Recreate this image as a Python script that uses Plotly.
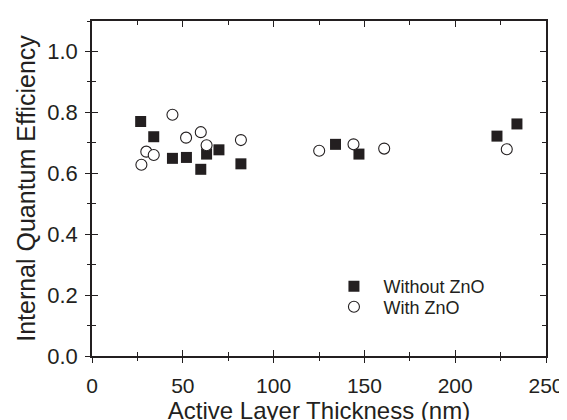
import plotly.graph_objects as go

# Data
without_x = [26.8, 34.0, 44.3, 52.0, 59.9, 63.1, 69.9, 82.0, 134.1, 147.0, 223.0, 234.0]
without_y = [0.770, 0.720, 0.649, 0.652, 0.613, 0.663, 0.677, 0.631, 0.695, 0.663, 0.722, 0.762]

with_x = [27.2, 29.9, 34.0, 44.3, 51.8, 59.9, 63.1, 82.0, 125.1, 144.0, 160.9, 228.4]
with_y = [0.628, 0.671, 0.660, 0.792, 0.717, 0.735, 0.692, 0.709, 0.674, 0.695, 0.681, 0.679]

x_ticks = [0, 50, 100, 150, 200, 250]
y_ticks = [0.0, 0.2, 0.4, 0.6, 0.8, 1.0]
x_range = [0, 250]
y_range = [0, 1.1]

INK = "#231f20"
FONT = "Liberation Sans, Arial, sans-serif"

fig = go.Figure()
fig.add_trace(go.Scatter(
    x=without_x, y=without_y, mode="markers", name="Without ZnO", legend="legend",
    marker=dict(symbol="square", size=11, color=INK, line=dict(width=0)),
))
fig.add_trace(go.Scatter(
    x=with_x, y=with_y, mode="markers", name="With ZnO", legend="legend2",
    marker=dict(symbol="circle", size=11, color="white", line=dict(width=1.1, color=INK)),
))
# empty trace to activate the overlay axes used for the outward half of crossing ticks
fig.add_trace(go.Scatter(x=[], y=[], xaxis="x2", yaxis="y2", showlegend=False, hoverinfo="skip"))

leg_common = dict(
    x=0.512, xanchor="left", yanchor="middle",
    bgcolor="rgba(0,0,0,0)", font=dict(size=18, family=FONT, color=INK),
    itemsizing="trace", itemwidth=49,
)

fig.update_layout(
    width=567, height=420,
    margin=dict(l=84, r=18, t=11, b=67),
    paper_bgcolor="white", plot_bgcolor="white",
    font=dict(family=FONT, color=INK, size=21),
    showlegend=True,
    legend=dict(y=0.2076, **leg_common),
    legend2=dict(y=0.146, **leg_common),
    xaxis=dict(
        range=x_range, tickvals=x_ticks, ticktext=[str(v) for v in x_ticks],
        showgrid=False, zeroline=False, showline=True, linecolor=INK, linewidth=1.5,
        mirror="allticks", ticks="inside", ticklen=6, tickwidth=1.2, tickcolor=INK,
        minor=dict(ticks="inside", ticklen=4, tickwidth=1.2, tickcolor=INK, dtick=25, tick0=0, showgrid=False),
        tickfont=dict(size=21, family=FONT, color=INK), ticklabelstandoff=10,
        title=dict(text="Active Layer Thickness (nm)", font=dict(size=24, family=FONT, color=INK), standoff=3),
    ),
    yaxis=dict(
        range=y_range, tickvals=y_ticks, ticktext=[f"{v:.1f}" for v in y_ticks],
        showgrid=False, zeroline=False, showline=True, linecolor=INK, linewidth=1.5,
        mirror="allticks", ticks="inside", ticklen=6, tickwidth=1.2, tickcolor=INK,
        minor=dict(ticks="inside", ticklen=4, tickwidth=1.2, tickcolor=INK, dtick=0.1, tick0=0, showgrid=False),
        tickfont=dict(size=22, family=FONT, color=INK), ticklabelstandoff=8,
        title=dict(text="Internal Quantum Efficiency", font=dict(size=25, family=FONT, color=INK), standoff=5),
    ),
    xaxis2=dict(
        overlaying="x", side="bottom", range=x_range, tickvals=x_ticks,
        showticklabels=False, showgrid=False, zeroline=False, showline=False,
        ticks="outside", ticklen=6, tickwidth=1.2, tickcolor=INK,
        minor=dict(ticks="outside", ticklen=4, tickwidth=1.2, tickcolor=INK, dtick=25, tick0=0, showgrid=False),
    ),
    yaxis2=dict(
        overlaying="y", side="left", range=y_range, tickvals=y_ticks,
        showticklabels=False, showgrid=False, zeroline=False, showline=False,
        ticks="outside", ticklen=6, tickwidth=1.2, tickcolor=INK,
        minor=dict(ticks="outside", ticklen=4, tickwidth=1.2, tickcolor=INK, dtick=0.1, tick0=0, showgrid=False),
    ),
)

fig.write_html("out.html")
